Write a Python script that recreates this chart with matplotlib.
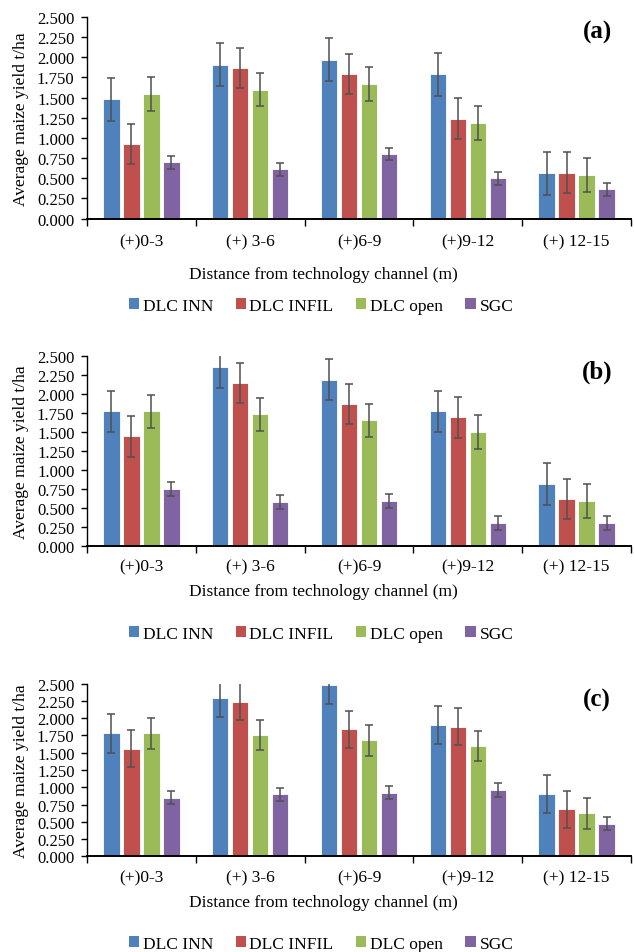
import matplotlib
matplotlib.use("Agg")
import matplotlib.pyplot as plt
import matplotlib.transforms as mtransforms
import numpy as np
from matplotlib.ticker import FixedLocator, NullFormatter
from matplotlib.patches import Patch

plt.rcParams['font.family'] = ['Liberation Serif', 'DejaVu Serif']

categories = ["(+)0-3", "(+) 3-6", "(+)6-9", "(+)9-12", "(+) 12-15"]
series = ["DLC INN", "DLC INFIL", "DLC open", "SGC"]
colors = ["#4F81BD", "#C0504D", "#9BBB59", "#8064A2"]
yticks = [0.0, 0.25, 0.5, 0.75, 1.0, 1.25, 1.5, 1.75, 2.0, 2.25, 2.5]

# panel (a)
a_inn = [1.48, 1.91, 1.97, 1.79, 0.56]
a_infil = [0.92, 1.87, 1.79, 1.24, 0.57]
a_open = [1.54, 1.60, 1.67, 1.19, 0.54]
a_sgc = [0.70, 0.61, 0.80, 0.50, 0.36]
a_err = [0.265, 0.25, 0.21, 0.08]

# panel (b)
b_inn = [1.77, 2.35, 2.19, 1.77, 0.81]
b_infil = [1.44, 2.14, 1.87, 1.69, 0.62]
b_open = [1.77, 1.73, 1.65, 1.50, 0.59]
b_sgc = [0.75, 0.58, 0.59, 0.30, 0.30]
b_err = [0.275, 0.265, 0.22, 0.09]

# panel (c)
c_inn = [1.78, 2.30, 2.48, 1.90, 0.90]
c_infil = [1.56, 2.24, 1.84, 1.88, 0.68]
c_open = [1.78, 1.76, 1.68, 1.60, 0.62]
c_sgc = [0.85, 0.90, 0.92, 0.96, 0.47]
c_err = [0.28, 0.265, 0.22, 0.095]

panels = [
    ("(a)", [a_inn, a_infil, a_open, a_sgc], a_err),
    ("(b)", [b_inn, b_infil, b_open, b_sgc], b_err),
    ("(c)", [c_inn, c_infil, c_open, c_sgc], c_err),
]

W, H = 634, 953
fig = plt.figure(figsize=(W / 100, H / 100), dpi=100)

# pixel layout: (top, bottom) of plot area, category label y, xlabel y, legend y, panel-letter y
layout = [
    (18, 219.5, 242, 275, 307, 32),
    (357, 546.7, 567, 592, 635, 372),
    (684.7, 857.3, 878, 903, 945, 700),
]
left_px, right_px = 87, 631

x = np.arange(len(categories))
step = 0.184
bw = 0.15
offsets = (np.arange(4) - 1.5) * step

for (letter, vals, errs), (top, bot, catY, xlY, legY, letY) in zip(panels, layout):
    ax = fig.add_axes([left_px / W, 1 - bot / H, (right_px - left_px) / W, (bot - top) / H])
    for i in range(4):
        ax.bar(x + offsets[i], vals[i], width=bw, color=colors[i],
               edgecolor='white', linewidth=0.6, zorder=2)
        ax.errorbar(x + offsets[i], vals[i], yerr=errs[i], fmt='none',
                    ecolor='#505050', elinewidth=1.1, capsize=3, capthick=1.1, zorder=3)
    ax.set_xlim(-0.5, len(categories) - 0.5)
    ax.set_ylim(0, 2.5)
    ax.set_yticks(yticks)
    ax.set_yticklabels([f"{t:.3f}" for t in yticks], fontsize=12)
    ax.set_xticks(x)
    ax.set_xticklabels([])
    ax.tick_params(axis='x', which='major', length=0)
    ax.xaxis.set_minor_locator(FixedLocator(np.arange(-0.5, len(categories), 1.0)))
    ax.xaxis.set_minor_formatter(NullFormatter())
    ax.tick_params(axis='x', which='minor', length=5, width=1, direction='out')
    ax.tick_params(axis='y', length=4, width=1, direction='out', pad=5)
    for s in ['top', 'right']:
        ax.spines[s].set_visible(False)
    ax.spines['left'].set_linewidth(1)
    ax.spines['bottom'].set_linewidth(1.4)
    tr = mtransforms.blended_transform_factory(ax.transData, fig.transFigure)
    for xi, c in zip(x, categories):
        ax.text(xi, 1 - catY / H, c, transform=tr, ha='center', va='center', fontsize=12.5)
    fig.text(323 / W, 1 - xlY / H, "Distance from technology channel (m)",
             ha='center', va='center', fontsize=12.5)
    fig.text(21 / W, 1 - ((top + bot) / 2) / H, "Average maize yield t/ha", rotation=90,
             ha='center', va='center', fontsize=12.5)
    fig.text(597 / W, 1 - letY / H, letter, ha='center', va='center', fontsize=18, fontweight='bold')
    handles = [Patch(facecolor=colors[i], edgecolor='none') for i in range(4)]
    fig.legend(handles, series, loc='center', bbox_to_anchor=(321 / W, 1 - legY / H),
               ncol=4, frameon=False, fontsize=12.5, handlelength=0.6, handleheight=0.6,
               handletextpad=0.2, columnspacing=1.3, borderaxespad=0)

fig.savefig("out.png", dpi=100)
